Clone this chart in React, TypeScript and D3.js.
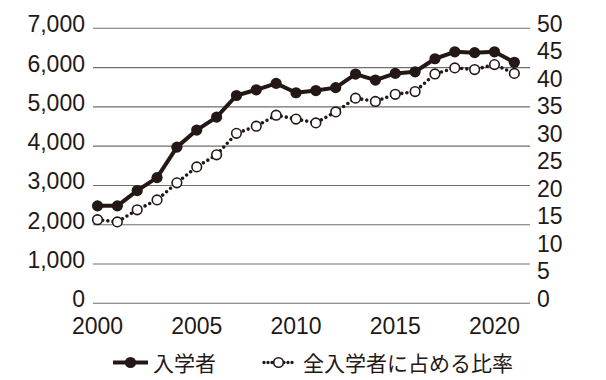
import React from "react";
import * as d3 from "d3";

const years = [2000, 2001, 2002, 2003, 2004, 2005, 2006, 2007, 2008, 2009, 2010, 2011, 2012, 2013, 2014, 2015, 2016, 2017, 2018, 2019, 2020, 2021];
const enrollees = [2480, 2480, 2870, 3200, 3975, 4410, 4740, 5290, 5435, 5598, 5359, 5415, 5490, 5835, 5682, 5852, 5893, 6225, 6402, 6380, 6402, 6135];
const ratio = [15.2, 14.8, 17.0, 18.8, 21.9, 24.8, 27.0, 30.9, 32.2, 34.2, 33.5, 32.8, 34.8, 37.3, 36.7, 38.0, 38.5, 41.7, 42.8, 42.5, 43.4, 41.8];
const leftTicks = [0, 1000, 2000, 3000, 4000, 5000, 6000, 7000];
const rightTicks = [0, 5, 10, 15, 20, 25, 30, 35, 40, 45, 50];
const xTicks = [2000, 2005, 2010, 2015, 2020];
const legendLabels = ["入学者", "全入学者に占める比率"];

const W = 606;
const H = 380;
const INK = "#231815";
const NUM_FONT = "'Liberation Sans', Arial, sans-serif";
const JP_FONT = "'Noto Sans CJK JP', sans-serif";

export default function App() {
  const x = d3.scaleLinear().domain([2000, 2020]).range([97.5, 494.5]);
  const yL = d3.scaleLinear().domain([0, 7000]).range([303.3, 28.3]);
  const yR = d3.scaleLinear().domain([0, 50]).range([303.3, 28.3]);
  const fmt = d3.format(",");

  const line1 = d3
    .line<number>()
    .x((_, i) => x(years[i]))
    .y((d) => yL(d))(enrollees) as string;
  const line2 = d3
    .line<number>()
    .x((_, i) => x(years[i]))
    .y((d) => yR(d))(ratio) as string;

  const gridX0 = 93;
  const gridX1 = 530;

  return (
    <svg
      width={W}
      height={H}
      style={{ position: "absolute", left: 0, top: 0, background: "#fff" }}
    >
      <rect width={W} height={H} fill="#fff" />
      {leftTicks.map((t) => (
        <line
          key={"g" + t}
          x1={gridX0}
          x2={gridX1}
          y1={yL(t)}
          y2={yL(t)}
          stroke="#6e6e6e"
          strokeWidth={1.1}
        />
      ))}
      {leftTicks.map((t) => (
        <text
          key={"l" + t}
          x={85}
          y={yL(t) - 4}
          textAnchor="end"
          dominantBaseline="central"
          fontFamily={NUM_FONT}
          fontSize={23}
          fill={INK}
        >
          {fmt(t)}
        </text>
      ))}
      {rightTicks.map((t) => (
        <text
          key={"r" + t}
          x={537}
          y={yR(t) - 4.5}
          textAnchor="start"
          dominantBaseline="central"
          fontFamily={NUM_FONT}
          fontSize={23}
          fill={INK}
        >
          {t}
        </text>
      ))}
      {xTicks.map((t) => (
        <text
          key={"x" + t}
          x={x(t)}
          y={326}
          textAnchor="middle"
          dominantBaseline="central"
          fontFamily={NUM_FONT}
          fontSize={23}
          fill={INK}
        >
          {t}
        </text>
      ))}
      <path
        d={line2}
        fill="none"
        stroke={INK}
        strokeWidth={3.6}
        strokeLinecap="round"
        strokeDasharray="0 5.2"
      />
      {ratio.map((v, i) => (
        <circle
          key={"c2" + i}
          cx={x(years[i])}
          cy={yR(v)}
          r={4.8}
          fill="#fff"
          stroke={INK}
          strokeWidth={1.6}
        />
      ))}
      <path d={line1} fill="none" stroke={INK} strokeWidth={4} strokeLinejoin="round" />
      {enrollees.map((v, i) => (
        <circle key={"c1" + i} cx={x(years[i])} cy={yL(v)} r={5.6} fill={INK} />
      ))}
      {/* legend */}
      <g>
        <line x1={113} x2={148} y1={362.5} y2={362.5} stroke={INK} strokeWidth={4} />
        <circle cx={130.5} cy={362.5} r={5.6} fill={INK} />
        <text
          x={153}
          y={362}
          dominantBaseline="central"
          fontFamily={JP_FONT}
          fontSize={21}
          fill={INK}
        >
          {legendLabels[0]}
        </text>
        <line
          x1={264}
          x2={293}
          y1={362.5}
          y2={362.5}
          stroke={INK}
          strokeWidth={3.4}
          strokeLinecap="round"
          strokeDasharray="0 4"
        />
        <circle cx={278.5} cy={362.5} r={4.8} fill="#fff" stroke={INK} strokeWidth={1.6} />
        <text
          x={303}
          y={362}
          dominantBaseline="central"
          fontFamily={JP_FONT}
          fontSize={21}
          fill={INK}
        >
          {legendLabels[1]}
        </text>
      </g>
    </svg>
  );
}
